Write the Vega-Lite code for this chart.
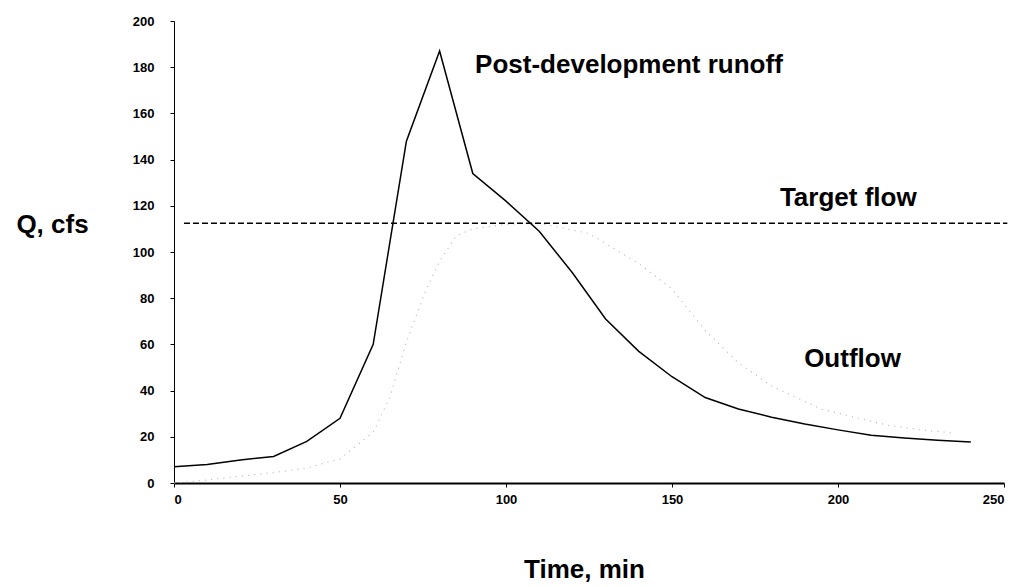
{
  "$schema": "https://vega.github.io/schema/vega-lite/v6.json",
  "width": 830,
  "height": 462,
  "autosize": {"type": "none"},
  "padding": {"left": 174, "top": 21, "right": 6, "bottom": 104},
  "background": "white",
  "config": {
    "view": {"stroke": null},
    "font": "Liberation Sans"
  },
  "datasets": {
    "runoff": [
      {"t": 0, "q": 7}, {"t": 10, "q": 8}, {"t": 20, "q": 10}, {"t": 30, "q": 11.5},
      {"t": 40, "q": 18}, {"t": 50, "q": 28}, {"t": 60, "q": 60}, {"t": 70, "q": 148},
      {"t": 80, "q": 187}, {"t": 90, "q": 134}, {"t": 100, "q": 122}, {"t": 110, "q": 109},
      {"t": 120, "q": 91}, {"t": 130, "q": 71}, {"t": 140, "q": 57}, {"t": 150, "q": 46},
      {"t": 160, "q": 37}, {"t": 170, "q": 32}, {"t": 180, "q": 28.5}, {"t": 190, "q": 25.5},
      {"t": 200, "q": 23}, {"t": 210, "q": 20.7}, {"t": 220, "q": 19.5}, {"t": 230, "q": 18.5},
      {"t": 240, "q": 17.8}
    ],
    "outflow": [
      {"t": 0, "q": 0}, {"t": 10, "q": 1.3}, {"t": 20, "q": 3}, {"t": 30, "q": 4.5},
      {"t": 40, "q": 6.5}, {"t": 50, "q": 10.5}, {"t": 60, "q": 22}, {"t": 65, "q": 37},
      {"t": 70, "q": 61}, {"t": 76, "q": 84}, {"t": 80, "q": 96}, {"t": 85, "q": 107},
      {"t": 90, "q": 110}, {"t": 100, "q": 112}, {"t": 110, "q": 112.5}, {"t": 125, "q": 108},
      {"t": 140, "q": 95}, {"t": 150, "q": 84}, {"t": 160, "q": 66}, {"t": 170, "q": 52},
      {"t": 180, "q": 42}, {"t": 195, "q": 32}, {"t": 205, "q": 28.5}, {"t": 215, "q": 25},
      {"t": 225, "q": 23}, {"t": 235, "q": 21.6}
    ],
    "target": [
      {"t": 3, "q": 112.5}, {"t": 251, "q": 112.5}
    ],
    "labels": [
      {"t": 90.7, "q": 181, "text": "Post-development runoff"},
      {"t": 182.5, "q": 123.5, "text": "Target flow"},
      {"t": 189.8, "q": 53.5, "text": "Outflow"}
    ]
  },
  "layer": [
    {
      "data": {"name": "outflow"},
      "mark": {"type": "line", "color": "#bdbdbd", "strokeWidth": 1.1, "strokeDash": [1.2, 5], "clip": false},
      "encoding": {
        "x": {
          "field": "t", "type": "quantitative",
          "scale": {"domain": [0, 250], "nice": false},
          "axis": {
            "values": [0, 50, 100, 150, 200, 250],
            "title": "Time, min",
            "titleFont": "Liberation Sans", "titleFontSize": 26, "titleFontWeight": "bold",
            "titleColor": "black",
            "titleX": 410, "titleY": 86, "titleBaseline": "middle", "titleAlign": "center",
            "labelFont": "Liberation Sans", "labelFontSize": 13, "labelFontWeight": "bold",
            "labelColor": "black", "labelPadding": 6,
            "domainColor": "black", "domainWidth": 2,
            "tickColor": "black", "tickSize": 4, "tickWidth": 1,
            "grid": false
          }
        },
        "y": {
          "field": "q", "type": "quantitative",
          "scale": {"domain": [0, 200], "nice": false},
          "axis": {
            "values": [0, 20, 40, 60, 80, 100, 120, 140, 160, 180, 200],
            "title": "Q, cfs",
            "titleFont": "Liberation Sans", "titleFontSize": 26, "titleFontWeight": "bold",
            "titleColor": "black",
            "titleAngle": 0, "titleX": -122, "titleY": 203,
            "titleAlign": "center", "titleBaseline": "middle",
            "labelFont": "Liberation Sans", "labelFontSize": 13, "labelFontWeight": "bold",
            "labelColor": "black", "labelPadding": 16,
            "domainColor": "black", "domainWidth": 1,
            "tickColor": "black", "tickSize": 4, "tickWidth": 1,
            "grid": false
          }
        }
      }
    },
    {
      "data": {"name": "runoff"},
      "mark": {"type": "line", "color": "black", "strokeWidth": 1.5},
      "encoding": {
        "x": {"field": "t", "type": "quantitative"},
        "y": {"field": "q", "type": "quantitative"}
      }
    },
    {
      "data": {"name": "target"},
      "mark": {"type": "line", "color": "black", "strokeWidth": 1.5, "strokeDash": [6, 3], "clip": false},
      "encoding": {
        "x": {"field": "t", "type": "quantitative"},
        "y": {"field": "q", "type": "quantitative"}
      }
    },
    {
      "data": {"name": "labels"},
      "mark": {"type": "text", "align": "left", "baseline": "middle", "fontSize": 26, "fontWeight": "bold", "font": "Liberation Sans", "color": "black"},
      "encoding": {
        "x": {"field": "t", "type": "quantitative"},
        "y": {"field": "q", "type": "quantitative"},
        "text": {"field": "text"}
      }
    }
  ]
}
